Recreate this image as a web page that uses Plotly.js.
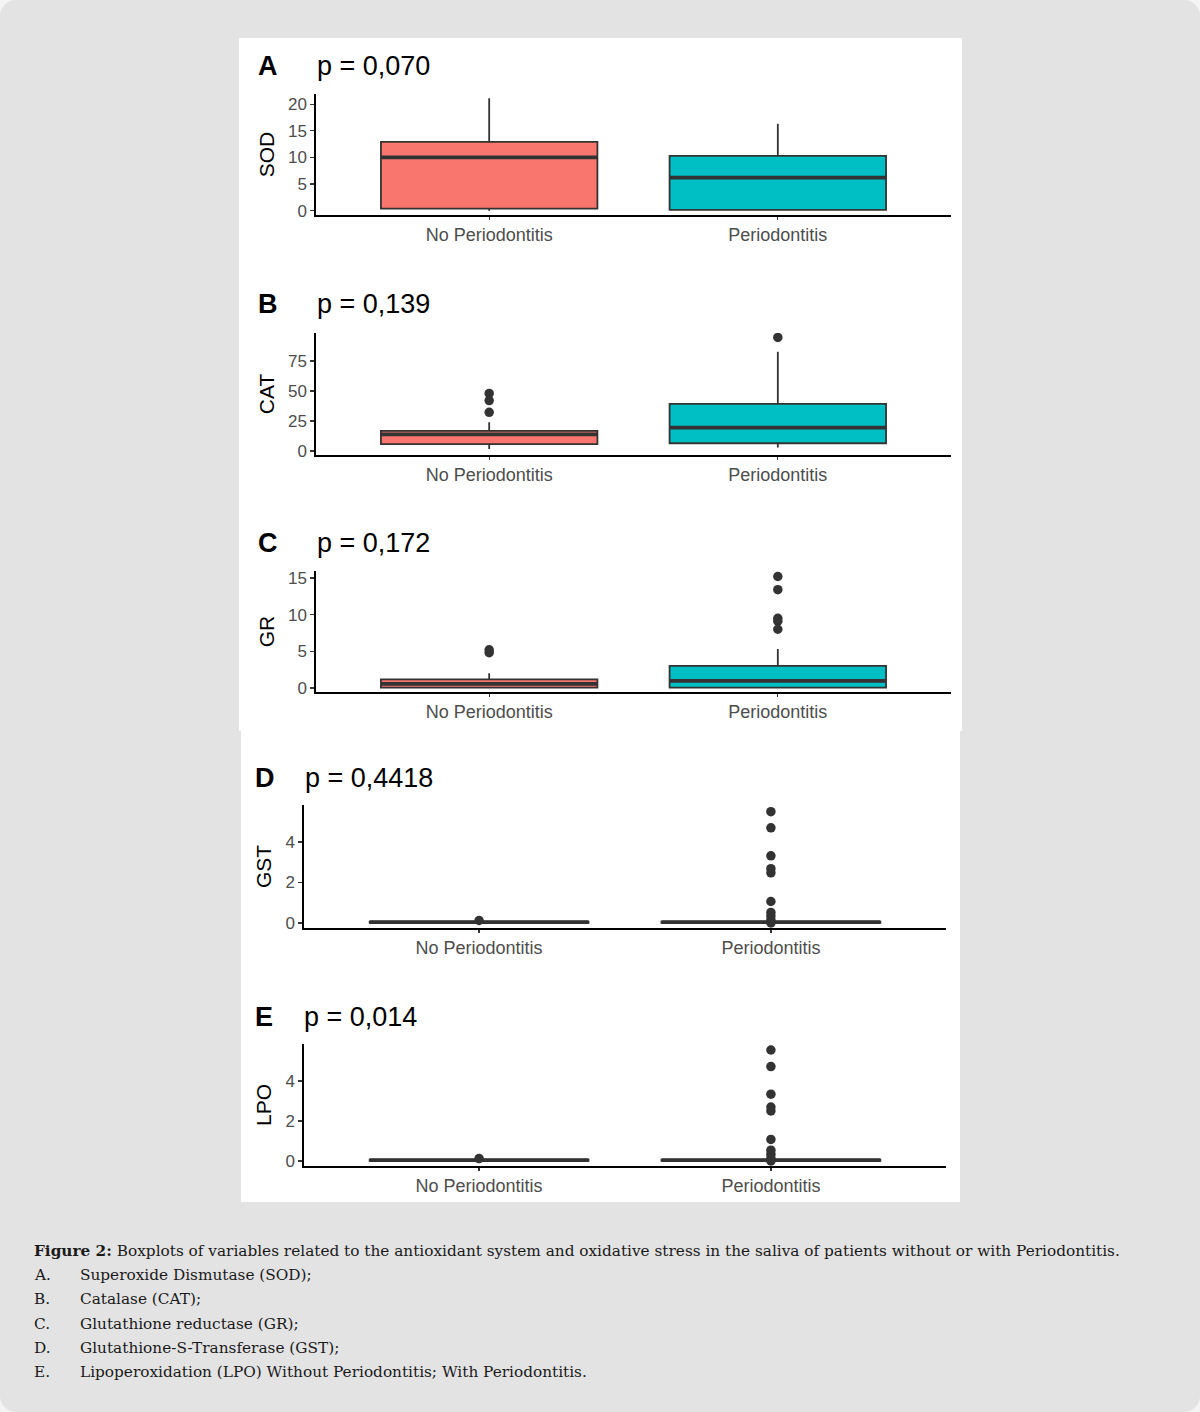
<!DOCTYPE html>
<html>
<head>
<meta charset="utf-8">
<script src="https://cdn.plot.ly/plotly-3.0.1.min.js"></script>
<style>
  html, body { margin: 0; padding: 0; background: #f4f4f4; }
  #chart { width: 1200px; height: 1412px; border-radius: 16px; overflow: hidden; }
</style>
</head>
<body>
<div id="chart"></div>
<script>
// ---------- DATA ----------
const categories = ['No Periodontitis', 'Periodontitis'];

// SOD (A)
const sodQ1 = [0.4, 0.15];
const sodMedian = [10.0, 6.2];
const sodQ3 = [12.9, 10.3];
const sodLow = [0.0, 0.0];
const sodHigh = [21.1, 16.3];
const sodOutNo = [];
const sodOutPerio = [];

// CAT (B)
const catQ1 = [5.6, 6.4];
const catMedian = [13.8, 19.4];
const catQ3 = [16.7, 39.2];
const catLow = [1.7, 2.8];
const catHigh = [24.0, 82.8];
const catOutNo = [48.0, 42.0, 32.2];
const catOutPerio = [94.7];

// GR (C)
const grQ1 = [0.05, 0.04];
const grMedian = [0.55, 0.95];
const grQ3 = [1.15, 3.0];
const grLow = [0.0, 0.0];
const grHigh = [2.0, 5.3];
const grOutNo = [5.2, 4.8];
const grOutPerio = [15.2, 13.4, 9.5, 9.1, 8.0];

// GST (D)
const gstQ1 = [0.01, 0.01];
const gstMedian = [0.04, 0.04];
const gstQ3 = [0.07, 0.07];
const gstLow = [0.0, 0.0];
const gstHigh = [0.1, 0.1];
const gstOutNo = [0.12];
const gstOutPerio = [5.5, 4.7, 3.32, 2.68, 2.48, 1.06, 0.52, 0.34, 0.15, 0.0];

// LPO (E)
const lpoQ1 = [0.01, 0.01];
const lpoMedian = [0.04, 0.04];
const lpoQ3 = [0.07, 0.07];
const lpoLow = [0.0, 0.0];
const lpoHigh = [0.1, 0.1];
const lpoOutNo = [0.12];
const lpoOutPerio = [5.55, 4.72, 3.34, 2.7, 2.5, 1.08, 0.54, 0.34, 0.14, 0.0];

const panelLetters = ['A', 'B', 'C', 'D', 'E'];
const pValues = ['p = 0,070', 'p = 0,139', 'p = 0,172', 'p = 0,4418', 'p = 0,014'];
const yTitles = ['SOD', 'CAT', 'GR', 'GST', 'LPO'];
const yTicks = [[0, 5, 10, 15, 20], [0, 25, 50, 75], [0, 5, 10, 15], [0, 2, 4], [0, 2, 4]];

const captionTitle = 'Figure 2:';
const captionText = 'Boxplots of variables related to the antioxidant system and oxidative stress in the saliva of patients without or with Periodontitis.';
const captionLabels = ['A.', 'B.', 'C.', 'D.', 'E.'];
const captionItems = [
  'Superoxide Dismutase (SOD);',
  'Catalase (CAT);',
  'Glutathione reductase (GR);',
  'Glutathione-S-Transferase (GST);',
  'Lipoperoxidation (LPO) Without Periodontitis; With Periodontitis.'
];

// ---------- LAYOUT GEOMETRY (pixels) ----------
const W = 1200, H = 1412;
const fillColors = ['#F8766D', '#00BFC4'];
const dark = '#333333';
const panels = [
  {q1: sodQ1, med: sodMedian, q3: sodQ3, lo: sodLow, hi: sodHigh, out: [sodOutNo, sodOutPerio],
   x: [316, 951], y: [94, 215], range: [-0.8, 21.9], letterX: 268, pX: 315, labelY: 66},
  {q1: catQ1, med: catMedian, q3: catQ3, lo: catLow, hi: catHigh, out: [catOutNo, catOutPerio],
   x: [316, 951], y: [333, 455], range: [-3.4, 98.4], letterX: 268, pX: 315, labelY: 304},
  {q1: grQ1, med: grMedian, q3: grQ3, lo: grLow, hi: grHigh, out: [grOutNo, grOutPerio],
   x: [316, 951], y: [571, 692], range: [-0.56, 15.95], letterX: 268, pX: 315, labelY: 543},
  {q1: gstQ1, med: gstMedian, q3: gstQ3, lo: gstLow, hi: gstHigh, out: [gstOutNo, gstOutPerio],
   x: [304, 946], y: [805, 928], range: [-0.25, 5.83], letterX: 265, pX: 303, labelY: 778},
  {q1: lpoQ1, med: lpoMedian, q3: lpoQ3, lo: lpoLow, hi: lpoHigh, out: [lpoOutNo, lpoOutPerio],
   x: [304, 946], y: [1044, 1166], range: [-0.25, 5.85], letterX: 264, pX: 302, labelY: 1017}
];

const px = v => v / W;
const py = v => 1 - v / H;

const traces = [];
const layout = {
  width: W, height: H,
  margin: {l: 0, r: 0, t: 0, b: 0},
  paper_bgcolor: '#e3e3e3',
  plot_bgcolor: '#ffffff',
  showlegend: false,
  font: {family: 'Liberation Sans, Arial, sans-serif', color: '#000'},
  shapes: [
    {type: 'rect', xref: 'paper', yref: 'paper', x0: px(239), x1: px(962), y0: py(731), y1: py(38),
     fillcolor: '#ffffff', line: {width: 0}, layer: 'below'},
    {type: 'rect', xref: 'paper', yref: 'paper', x0: px(241), x1: px(960), y0: py(1202), y1: py(731),
     fillcolor: '#ffffff', line: {width: 0}, layer: 'below'}
  ],
  annotations: []
};

panels.forEach((p, k) => {
  const n = k + 1;
  const xa = n === 1 ? 'x' : 'x' + n;
  const ya = n === 1 ? 'y' : 'y' + n;
  const xKey = n === 1 ? 'xaxis' : 'xaxis' + n;
  const yKey = n === 1 ? 'yaxis' : 'yaxis' + n;

  categories.forEach((cat, i) => {
    const pos = i + 1;
    traces.push({
      type: 'box', xaxis: xa, yaxis: ya, name: cat,
      x: [pos], q1: [p.q1[i]], median: [p.med[i]], q3: [p.q3[i]],
      lowerfence: [p.lo[i]], upperfence: [p.hi[i]],
      width: 0.75, whiskerwidth: 0, boxpoints: false,
      fillcolor: fillColors[i], line: {color: dark, width: 1.8},
      hoverinfo: 'skip'
    });
    // thicker median line (ggplot style)
    traces.push({
      type: 'scatter', mode: 'lines', xaxis: xa, yaxis: ya,
      x: [pos - 0.375, pos + 0.375], y: [p.med[i], p.med[i]],
      line: {color: dark, width: 3.8}, hoverinfo: 'skip'
    });
    if (p.out[i].length) {
      traces.push({
        type: 'scatter', mode: 'markers', xaxis: xa, yaxis: ya,
        x: p.out[i].map(() => pos), y: p.out[i],
        marker: {color: dark, size: 9.5}, hoverinfo: 'skip'
      });
    }
  });

  layout[xKey] = {
    domain: [px(p.x[0]), px(p.x[1])], anchor: ya,
    range: [0.4, 2.6], tickvals: [1, 2], ticktext: categories,
    showline: true, linecolor: '#000', linewidth: 1.6, mirror: false,
    ticks: 'outside', ticklen: 3, tickwidth: 1.2, tickcolor: dark,
    tickfont: {size: 18, color: '#4d4d4d'},
    showgrid: false, zeroline: false, fixedrange: true
  };
  layout[yKey] = {
    domain: [py(p.y[1]), py(p.y[0])], anchor: xa,
    range: p.range, tickvals: yTicks[k], ticktext: yTicks[k].map(String),
    showline: true, linecolor: '#000', linewidth: 1.6,
    ticks: 'outside', ticklen: 4, tickwidth: 1.2, tickcolor: dark,
    tickfont: {size: 17, color: '#4d4d4d'},
    showgrid: false, zeroline: false, fixedrange: true,
    title: {text: yTitles[k], font: {size: 21, color: '#000'}, standoff: 8}
  };

  layout.annotations.push({
    xref: 'paper', yref: 'paper', x: px(p.letterX), y: py(p.labelY),
    xanchor: 'center', yanchor: 'middle', showarrow: false,
    text: '<b>' + panelLetters[k] + '</b>', font: {size: 27, color: '#000'}
  });
  layout.annotations.push({
    xref: 'paper', yref: 'paper', x: px(p.pX), y: py(p.labelY),
    xanchor: 'left', yanchor: 'middle', showarrow: false,
    text: pValues[k], font: {size: 27, color: '#000'}
  });
});

// caption
const capFont = {family: 'DejaVu Serif, serif', size: 15.3, color: '#1a1a1a'};
layout.annotations.push({
  xref: 'paper', yref: 'paper', x: px(32), y: py(1251),
  xanchor: 'left', yanchor: 'middle', showarrow: false, align: 'left',
  text: '<b>' + captionTitle + '</b> ' + captionText, font: capFont
});
captionItems.forEach((t, i) => {
  const yy = 1275 + i * 24.3;
  layout.annotations.push({
    xref: 'paper', yref: 'paper', x: px(32), y: py(yy),
    xanchor: 'left', yanchor: 'middle', showarrow: false,
    text: captionLabels[i], font: capFont
  });
  layout.annotations.push({
    xref: 'paper', yref: 'paper', x: px(78), y: py(yy),
    xanchor: 'left', yanchor: 'middle', showarrow: false, align: 'left',
    text: t, font: capFont
  });
});

Plotly.newPlot('chart', traces, layout, {staticPlot: true, displayModeBar: false});
</script>
</body>
</html>
